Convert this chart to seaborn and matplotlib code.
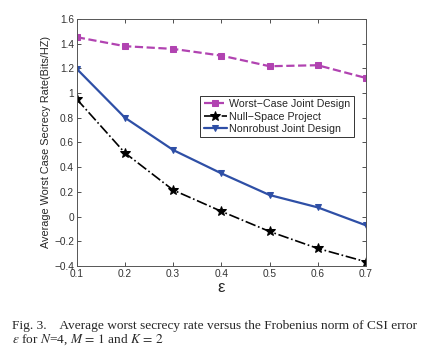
import numpy as np
import pandas as pd
import matplotlib
matplotlib.use("Agg")
import matplotlib.pyplot as plt
import seaborn as sns

# Data
eps = [0.1, 0.2, 0.3, 0.4, 0.5, 0.6, 0.7]
worst_case = [1.452, 1.379, 1.357, 1.303, 1.217, 1.225, 1.122]
null_space = [0.95, 0.515, 0.215, 0.043, -0.12, -0.257, -0.365]
nonrobust = [1.195, 0.80, 0.539, 0.35, 0.175, 0.075, -0.07]

sns.set_style("ticks")
plt.rcParams['font.family'] = ['Liberation Sans', 'DejaVu Sans']
plt.rcParams['mathtext.fontset'] = 'stix'

fig = plt.figure(figsize=(4.34, 3.63), dpi=100)
ax = fig.add_axes([0.177, 0.267, 0.666, 0.681])

sns.lineplot(x=eps, y=worst_case, ax=ax, color='#B143B1', linestyle='--', lw=1.6,
             marker='s', markersize=4, markeredgecolor='#B143B1', label='Worst\u2212Case Joint Design')
sns.lineplot(x=eps, y=null_space, ax=ax, color='black', linestyle='-.', lw=1.2,
             marker='*', markersize=7.5, markeredgecolor='black', label='Null\u2212Space Project')
sns.lineplot(x=eps, y=nonrobust, ax=ax, color='#2E4FA6', linestyle='-', lw=1.6,
             marker='v', markersize=5, markeredgecolor='#2E4FA6', label='Nonrobust Joint Design')

ax.set_xlim(0.1, 0.7)
ax.set_ylim(-0.4, 1.6)
ax.set_xticks(eps)
ax.set_xticklabels(['0.1', '0.2', '0.3', '0.4', '0.5', '0.6', '0.7'])
ax.set_yticks([-0.4, -0.2, 0, 0.2, 0.4, 0.6, 0.8, 1.0, 1.2, 1.4, 1.6])
ax.set_yticklabels(['\u22120.4', '\u22120.2', '0', '0.2', '0.4', '0.6', '0.8', '1', '1.2', '1.4', '1.6'])
ax.tick_params(direction='in', top=True, right=True, labelsize=7.3, length=3, width=0.6, pad=2, colors='#333333')
for s in ax.spines.values():
    s.set_linewidth(0.7)
    s.set_color('#555555')

ax.set_xlabel('\u03b5', fontsize=12, labelpad=1)
ax.set_ylabel('Average Worst Case Secrecy Rate(Bits/HZ)', fontsize=7.8, labelpad=2)

leg = ax.legend(loc='upper right', bbox_to_anchor=(0.958, 0.688), fontsize=7.7,
                frameon=True, fancybox=False, edgecolor='black', handlelength=2.2,
                handletextpad=0.2, borderpad=0.3, labelspacing=0.22, borderaxespad=0)
leg.get_frame().set_linewidth(0.7)

cap_font = ['Liberation Serif', 'DejaVu Serif']
fig.text(0.028, 0.103, 'Fig. 3.    Average worst secrecy rate versus the Frobenius norm of CSI error',
         fontsize=9.6, family=cap_font, va='center', ha='left')
fig.text(0.028, 0.063, r'$\epsilon$ for $N$=4, $M\,=\,1$ and $K\,=\,2$',
         fontsize=9.6, family=cap_font, va='center', ha='left')

fig.savefig('out.png', dpi=100)
